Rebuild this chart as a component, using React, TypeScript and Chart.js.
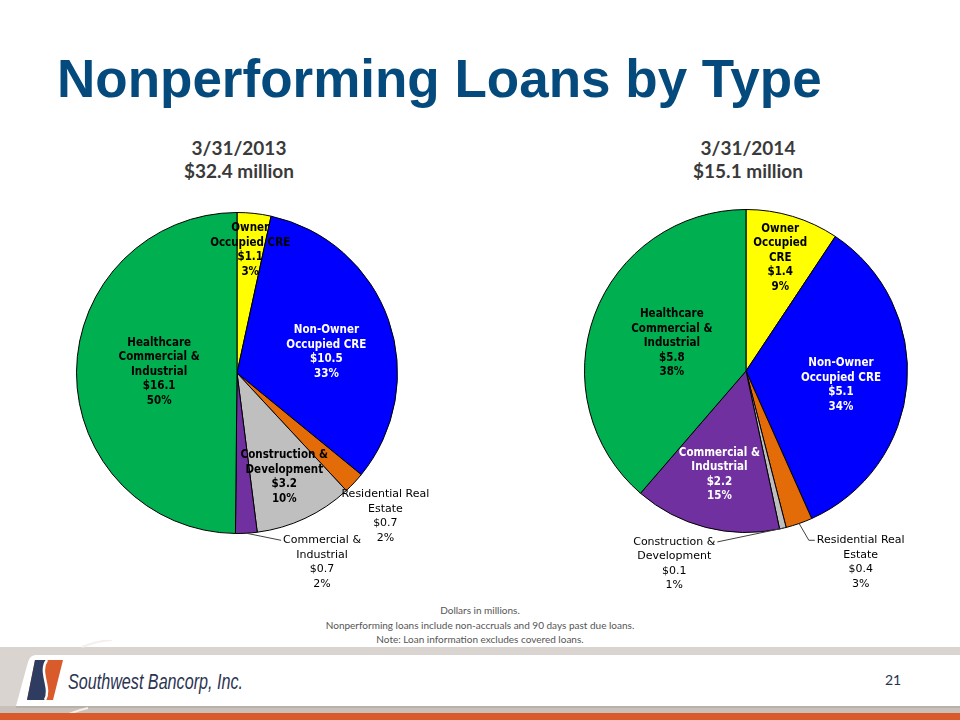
import React, { useEffect, useRef } from "react";
import { Chart, registerables } from "chart.js";

Chart.register(...registerables);

// ---------- data ----------
const categories = [
  "Owner Occupied CRE",
  "Non-Owner Occupied CRE",
  "Residential Real Estate",
  "Construction & Development",
  "Commercial & Industrial",
  "Healthcare Commercial & Industrial",
];
const sliceColors = ["#FFFF00", "#0000FF", "#E36C09", "#BFBFBF", "#7030A0", "#00B050"];

const values2013 = [1.1, 10.5, 0.7, 3.2, 0.7, 16.1];
const pct2013 = [3, 33, 2, 10, 2, 50];
const values2014 = [1.4, 5.1, 0.4, 0.1, 2.2, 5.8];
const pct2014 = [9, 34, 3, 1, 15, 38];

const header2013 = ["3/31/2013", "$32.4 million"];
const header2014 = ["3/31/2014", "$15.1 million"];

const nameLines2013 = [
  ["Owner", "Occupied CRE"],
  ["Non-Owner", "Occupied CRE"],
  ["Residential Real", "Estate"],
  ["Construction &", "Development"],
  ["Commercial &", "Industrial"],
  ["Healthcare", "Commercial &", "Industrial"],
];
const nameLines2014 = [
  ["Owner", "Occupied", "CRE"],
  ["Non-Owner", "Occupied CRE"],
  ["Residential Real", "Estate"],
  ["Construction &", "Development"],
  ["Commercial &", "Industrial"],
  ["Healthcare", "Commercial &", "Industrial"],
];

const pageTitle = "Nonperforming Loans by Type";
const footnotes = [
  "Dollars in millions.",
  "Nonperforming loans include non-accruals and 90 days past due loans.",
  "Note: Loan information excludes covered loans.",
];
const companyName = "Southwest Bancorp, Inc.";
const pageNumber = "21";

// ---------- label layout (relative to each slice's geometry) ----------
type LabelCfg = {
  rf: number;
  dx: number;
  dy: number;
  color: string;
  bold: boolean;
  leader?: "left" | "right" | "elbow";
};

const layout2013: LabelCfg[] = [
  { rf: 0.77, dx: 0, dy: 0, color: "#000", bold: true },
  { rf: 0.57, dx: 3, dy: 9, color: "#fff", bold: true },
  { rf: 1.285, dx: -2, dy: 2, color: "#000", bold: false },
  { rf: 0.71, dx: -1, dy: 1, color: "#000", bold: true },
  { rf: 1.18, dx: 74, dy: 0, color: "#000", bold: false, leader: "left" },
  { rf: 0.485, dx: 0, dy: -1, color: "#000", bold: true },
];
const layout2014: LabelCfg[] = [
  { rf: 0.733, dx: 0, dy: 0, color: "#000", bold: true },
  { rf: 0.59, dx: 0, dy: 6, color: "#fff", bold: true },
  { rf: 1.2, dx: 51, dy: 8, color: "#000", bold: false, leader: "elbow" },
  { rf: 1.2, dx: -116, dy: 4, color: "#000", bold: false, leader: "right" },
  { rf: 0.662, dx: 0, dy: 0, color: "#fff", bold: true },
  { rf: 0.49, dx: 0, dy: 0, color: "#000", bold: true },
];

const BOLD_FONT = 'bold 11.5px "DejaVu Sans Condensed", "DejaVu Sans", sans-serif';
const REG_FONT = '11px "DejaVu Sans", sans-serif';

function makeLabelPlugin(values: number[], pct: number[], names: string[][], layout: LabelCfg[]) {
  return {
    id: "sliceLabels",
    afterDatasetsDraw(chart: any) {
      const ctx: CanvasRenderingContext2D = chart.ctx;
      const meta = chart.getDatasetMeta(0);
      meta.data.forEach((arc: any, i: number) => {
        const p = arc.getProps(["x", "y", "startAngle", "endAngle", "outerRadius"], true);
        const mid = (p.startAngle + p.endAngle) / 2;
        const cfg = layout[i];
        const ax = p.x + Math.cos(mid) * p.outerRadius * cfg.rf + cfg.dx;
        const ay = p.y + Math.sin(mid) * p.outerRadius * cfg.rf + cfg.dy;
        const lines = [...names[i], "$" + values[i].toFixed(1), pct[i] + "%"];
        const lh = 14.5;
        ctx.save();
        ctx.font = cfg.bold ? BOLD_FONT : REG_FONT;
        ctx.textAlign = "center";
        ctx.textBaseline = "middle";
        ctx.fillStyle = cfg.color;
        const y0 = ay - ((lines.length - 1) * lh) / 2;
        lines.forEach((t, k) => ctx.fillText(t, ax, y0 + k * lh));
        if (cfg.leader) {
          const w = ctx.measureText(lines[0]).width;
          const ex = p.x + Math.cos(mid) * p.outerRadius;
          const ey = p.y + Math.sin(mid) * p.outerRadius;
          ctx.strokeStyle = "#404040";
          ctx.lineWidth = 1;
          ctx.beginPath();
          ctx.moveTo(ex, ey);
          if (cfg.leader === "left") ctx.lineTo(ax - w / 2 - 2, y0);
          else if (cfg.leader === "right") ctx.lineTo(ax + w / 2 + 2, y0);
          else {
            ctx.lineTo(ax - w / 2 - 8, y0);
            ctx.lineTo(ax - w / 2 - 2, y0);
          }
          ctx.stroke();
        }
        ctx.restore();
      });
    },
  };
}

type PieProps = {
  left: number;
  top: number;
  width: number;
  height: number;
  pad: { left: number; right: number; top: number; bottom: number };
  values: number[];
  pct: number[];
  names: string[][];
  layout: LabelCfg[];
};

function PieChart({ left, top, width, height, pad, values, pct, names, layout }: PieProps) {
  const ref = useRef<HTMLCanvasElement>(null);
  useEffect(() => {
    if (!ref.current) return;
    const chart = new Chart(ref.current, {
      type: "pie",
      data: {
        labels: categories,
        datasets: [
          {
            data: values,
            backgroundColor: sliceColors,
            borderColor: "#000000",
            borderWidth: 1,
          },
        ],
      },
      options: {
        responsive: false,
        animation: false,
        layout: { padding: pad },
        plugins: { legend: { display: false }, tooltip: { enabled: false } },
      } as any,
      plugins: [makeLabelPlugin(values, pct, names, layout)],
    });
    return () => chart.destroy();
  }, []);
  return (
    <canvas
      ref={ref}
      width={width}
      height={height}
      style={{ position: "absolute", left, top, width, height }}
    />
  );
}

function Header({ cx, lines }: { cx: number; lines: string[] }) {
  return (
    <div
      style={{
        position: "absolute",
        left: cx - 120,
        top: 136,
        width: 240,
        textAlign: "center",
        fontFamily: "Lato, 'Open Sans', sans-serif",
        fontWeight: 700,
        fontSize: 19,
        lineHeight: "23px",
        color: "#3a3a3a",
      }}
    >
      {lines.map((l, i) => (
        <div key={i}>{l}</div>
      ))}
    </div>
  );
}

function Footer() {
  return (
    <svg
      width={960}
      height={80}
      viewBox="0 640 960 80"
      style={{ position: "absolute", left: 0, top: 640 }}
    >
      <rect x={0} y={647} width={960} height={66} fill="#d9d4cf" />
      <rect x={0} y={706} width={960} height={7} fill="#c8c1ba" />
      <path
        d="M 36 655 L 960 655 L 960 706 L 16 706 L 28 662 Q 30 655 36 655 Z"
        fill="#ffffff"
      />
      <path d="M 16 707 L 960 707" stroke="#b3aba3" strokeWidth={1.5} />
      <path d="M 82 647 Q 96 641 112 640" stroke="#f2efec" strokeWidth={2} fill="none" />
      <path d="M 58 720 Q 70 712 88 708" stroke="#f2efec" strokeWidth={2} fill="none" />
      <rect x={0} y={713} width={960} height={7} fill="#d95b2b" />
      {/* logo mark */}
      <path d="M 35 660 L 63 660 L 53 700 L 27 700 Z" fill="#d95b2b" />
      <path d="M 35 660 L 47 660 C 38 672 52 688 45 700 L 27 700 Z" fill="#2e3c62" />
      <path d="M 47 660 C 38 672 52 688 45 700" stroke="#ffffff" strokeWidth={2.5} fill="none" />
      <text
        x={68}
        y={689}
        textLength={175}
        lengthAdjust="spacingAndGlyphs"
        fontFamily="'Liberation Sans', Arial, sans-serif"
        fontStyle="italic"
        fontSize={22}
        fill="#2c3452"
      >
        {companyName}
      </text>
      <text
        x={893}
        y={685}
        textAnchor="middle"
        fontFamily="Lato, sans-serif"
        fontSize={14}
        fill="#1f3552"
      >
        {pageNumber}
      </text>
    </svg>
  );
}

export default function App() {
  return (
    <div
      style={{
        position: "fixed",
        left: 0,
        top: 0,
        width: 960,
        height: 720,
        background: "#ffffff",
        overflow: "hidden",
      }}
    >
      <div
        style={{
          position: "absolute",
          left: 57,
          top: 52,
          whiteSpace: "nowrap",
          fontFamily: "'Liberation Sans', Arial, sans-serif",
          fontWeight: 700,
          fontSize: 53,
          lineHeight: "53px",
          color: "#054a7d",
        }}
      >
        {pageTitle}
      </div>

      <Header cx={239} lines={header2013} />
      <Header cx={748} lines={header2014} />

      <PieChart
        left={40}
        top={190}
        width={440}
        height={410}
        pad={{ left: 36, right: 82, top: 22, bottom: 66 }}
        values={values2013}
        pct={pct2013}
        names={nameLines2013}
        layout={layout2013}
      />
      <PieChart
        left={560}
        top={190}
        width={400}
        height={410}
        pad={{ left: 24, right: 52, top: 19, bottom: 67 }}
        values={values2014}
        pct={pct2014}
        names={nameLines2014}
        layout={layout2014}
      />

      <div
        style={{
          position: "absolute",
          left: 0,
          top: 603,
          width: 960,
          textAlign: "center",
          fontFamily: "Lato, 'Open Sans', sans-serif",
          fontSize: 10,
          lineHeight: "14.5px",
          color: "#555555",
        }}
      >
        {footnotes.map((f, i) => (
          <div key={i}>{f}</div>
        ))}
      </div>

      <Footer />
    </div>
  );
}
